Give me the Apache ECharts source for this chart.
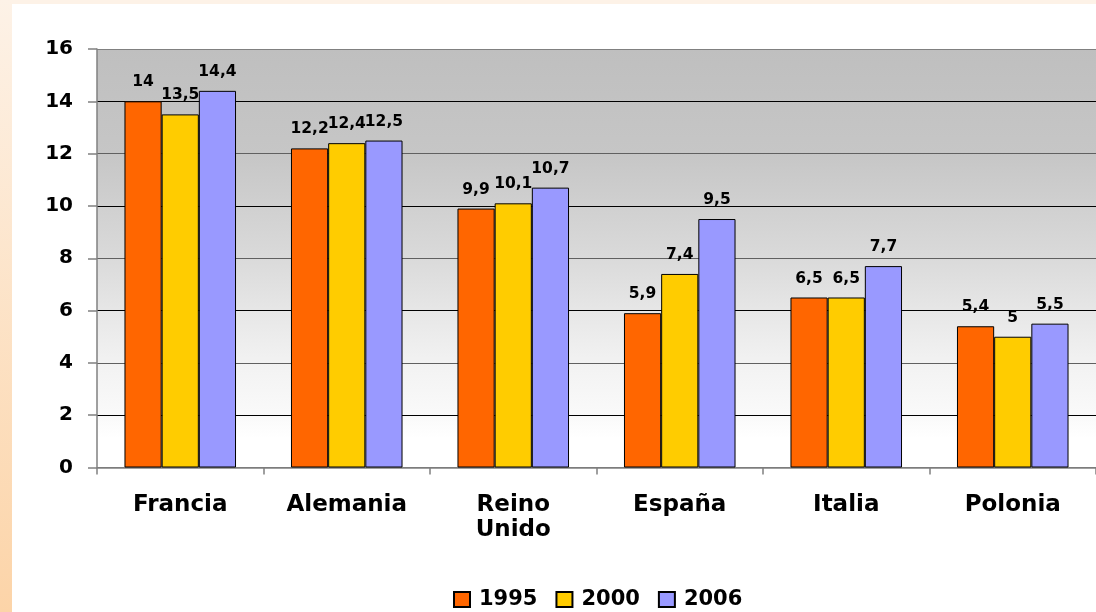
<!DOCTYPE html>
<html>
<head>
<meta charset="utf-8">
<script src="https://cdn.jsdelivr.net/npm/echarts@6/dist/echarts.min.js"></script>
<style>
html,body{margin:0;padding:0;background:#fff;}
#c{width:1096px;height:612px;}
</style>
</head>
<body>
<div id="c"></div>
<script>
const categories = ['Francia', 'Alemania', 'Reino Unido', 'España', 'Italia', 'Polonia'];
const seriesNames = ['1995', '2000', '2006'];
const values1995 = [14, 12.2, 9.9, 5.9, 6.5, 5.4];
const values2000 = [13.5, 12.4, 10.1, 7.4, 6.5, 5];
const values2006 = [14.4, 12.5, 10.7, 9.5, 7.7, 5.5];
const colors = ['#FF6600', '#FFCC00', '#9999FF'];
const yTicks = { min: 0, max: 16, interval: 2 };

const FONT = '"DejaVu Sans", sans-serif';
const chart = echarts.init(document.getElementById('c'), null, { renderer: 'canvas' });

function mkSeries(name, data, color) {
  return {
    name: name,
    type: 'bar',
    data: data,
    barGap: '0%',
    barCategoryGap: '33%',
    itemStyle: { color: color, borderColor: '#000', borderWidth: 1 },
    label: {
      show: true,
      position: 'top',
      distance: 11,
      color: '#000',
      fontFamily: FONT,
      fontWeight: 'bold',
      fontSize: 15.5,
      formatter: p => String(p.value).replace('.', ',')
    }
  };
}

const option = {
  animation: false,
  backgroundColor: '#ffffff',
  graphic: [
    { type: 'rect', z: -10, silent: true, shape: { x: 0, y: 0, width: 1096, height: 4 },
      style: { fill: '#fdf2e7' } },
    { type: 'rect', z: -10, silent: true, shape: { x: 0, y: 0, width: 12, height: 612 },
      style: { fill: new echarts.graphic.LinearGradient(0, 0, 0, 1, [
        { offset: 0, color: '#fdf2e7' }, { offset: 1, color: '#fcd4a8' }]) } }
  ],
  grid: {
    left: 97, top: 49, bottom: 144.5, right: -7,
    show: true,
    borderWidth: 0,
    backgroundColor: new echarts.graphic.LinearGradient(0, 0, 0, 1, [
      { offset: 0, color: '#bfbfbf' },
      { offset: 0.25, color: '#c6c6c6' },
      { offset: 0.5, color: '#dadada' },
      { offset: 0.62, color: '#e6e6e6' },
      { offset: 0.75, color: '#f2f2f2' },
      { offset: 0.88, color: '#fafafa' },
      { offset: 0.93, color: '#ffffff' },
      { offset: 1, color: '#ffffff' }
    ])
  },
  legend: {
    left: 453,
    top: 589,
    padding: 0,
    itemWidth: 16,
    itemHeight: 15,
    itemGap: 18,
    icon: 'rect',
    data: seriesNames,
    textStyle: { fontFamily: FONT, fontWeight: 'bold', fontSize: 21, color: '#000', padding: [0, 0, 0, 4] }
  },
  xAxis: {
    type: 'category',
    data: categories,
    axisLine: { show: true, lineStyle: { color: '#808080', width: 1.5 } },
    axisTick: { show: true, length: 7, lineStyle: { color: '#808080', width: 1.5 } },
    axisLabel: {
      margin: 25,
      color: '#000',
      fontFamily: FONT,
      fontWeight: 'bold',
      fontSize: 23,
      lineHeight: 25,
      interval: 0,
      formatter: v => v.replace(' ', '\n')
    },
    splitLine: { show: false }
  },
  yAxis: {
    type: 'value',
    min: yTicks.min, max: yTicks.max, interval: yTicks.interval,
    axisLine: { show: true, lineStyle: { color: '#808080', width: 1.5 } },
    axisTick: { show: true, length: 9, lineStyle: { color: '#808080', width: 1.5 } },
    axisLabel: {
      margin: 24,
      color: '#000',
      fontFamily: FONT,
      fontWeight: 'bold',
      fontSize: 20
    },
    splitLine: {
      show: true,
      lineStyle: {
        color: ['#707070', '#000', '#606060', '#000', '#606060', '#000', '#606060', '#000', '#808080'],
        width: 1.2
      }
    }
  },
  series: [
    mkSeries(seriesNames[0], values1995, colors[0]),
    mkSeries(seriesNames[1], values2000, colors[1]),
    mkSeries(seriesNames[2], values2006, colors[2])
  ]
};
chart.setOption(option);
</script>
</body>
</html>
